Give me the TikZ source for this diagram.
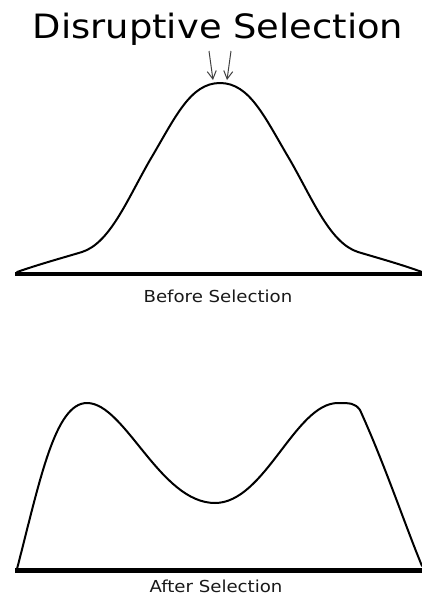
\documentclass[tikz,border=0pt]{standalone}
\usepackage{fontspec}
\setmainfont{DejaVu Sans}
\usetikzlibrary{arrows.meta}
\begin{document}
\begin{tikzpicture}[x=1pt,y=-1pt,
  curve/.style={line width=2pt,line join=round,line cap=round},
  axis/.style={line width=4.3pt},
  pointer/.style={line width=1pt,draw=black!75,-{Straight Barb[length=8pt,width=9pt,line width=1pt]}},
  lbl/.style={anchor=base,inner sep=0pt,text=black!90}]
\useasboundingbox (0,0) rectangle (422,598);
% title
\node[lbl,text=black] (title) at (218,38) {\scalebox{1.1}[1]{\fontsize{33.5}{38}\selectfont Disruptive Selection}};
% top distribution
\coordinate (t0) at (17,272);
\coordinate (t1) at (422,272);
\draw[axis] (15,274) -- (422,274);
\draw[curve] (t0) .. controls (40,264) and (62,258) .. (82,252)
  .. controls (110,243) and (127,200) .. (150,160)
  .. controls (175,118) and (190,83) .. (220,83)
  .. controls (250,83) and (265,118) .. (290,160)
  .. controls (313,200) and (330,243) .. (358,252)
  .. controls (378,258) and (400,264) .. (t1);
% pointers
\coordinate (a1s) at (209,51);
\coordinate (a1e) at (213,80);
\coordinate (a2s) at (231,51);
\coordinate (a2e) at (227,80);
\draw[pointer] (a1s) -- (a1e);
\draw[pointer] (a2s) -- (a2e);
\node[lbl] (before) at (218,302) {\scalebox{1.1}[1]{\fontsize{16.5}{20}\selectfont Before Selection}};
% bottom distribution
\coordinate (b0) at (17,569);
\coordinate (b1) at (422,566);
\draw[axis] (15,570.5) -- (422,570.5);
\draw[curve] (b0) .. controls (40,480) and (55,403) .. (87,403)
  .. controls (125,403) and (160,503) .. (215,503)
  .. controls (265,503) and (295,403) .. (338,403)
  .. controls (350,403) and (355,403) .. (360,410)
  .. controls (385,465) and (405,525) .. (b1);
\node[lbl] (after) at (216,592) {\scalebox{1.1}[1]{\fontsize{16.5}{20}\selectfont After Selection}};
\end{tikzpicture}
\end{document}
